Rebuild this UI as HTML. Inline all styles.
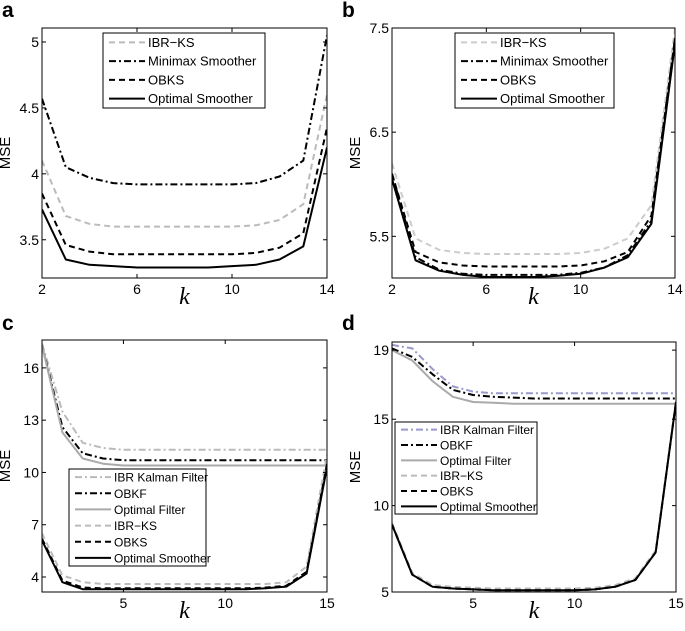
<!DOCTYPE html>
<html><head><meta charset="utf-8"><style>
body{margin:0;background:#fff;}
svg{display:block;font-family:"Liberation Sans",sans-serif;}
</style></head><body>
<svg id="fig" width="685" height="631" viewBox="0 0 685 631"></svg>
<script>
// ---- data ----
const kA = [2,3,4,5,6,7,8,9,10,11,12,13,14];
const aMinimax = [4.57,4.05,3.97,3.93,3.92,3.92,3.92,3.92,3.92,3.93,3.98,4.1,5.05];
const aIBRKS = [4.1,3.68,3.62,3.6,3.6,3.6,3.6,3.6,3.6,3.61,3.65,3.77,4.6];
const aOBKS = [3.85,3.46,3.41,3.39,3.39,3.39,3.39,3.39,3.39,3.4,3.44,3.55,4.35];
const aOptimal = [3.73,3.35,3.31,3.30,3.29,3.29,3.29,3.29,3.30,3.31,3.35,3.45,4.2];
const aTicksX = [2,6,10,14];
const aTicksY = [3.5,4,4.5,5];

const kB = [2,3,4,5,6,7,8,9,10,11,12,13,14];
const bIBRKS = [6.2,5.48,5.37,5.34,5.33,5.33,5.33,5.33,5.34,5.38,5.48,5.8,7.5];
const bMinimax = [6.1,5.3,5.18,5.14,5.13,5.13,5.13,5.13,5.15,5.2,5.32,5.65,7.4];
const bOBKS = [6.1,5.35,5.25,5.22,5.21,5.21,5.21,5.21,5.22,5.26,5.35,5.7,7.4];
const bOptimal = [6.05,5.27,5.17,5.13,5.11,5.11,5.11,5.12,5.14,5.2,5.3,5.62,7.35];
const bTicksX = [2,6,10,14];
const bTicksY = [5.5,6.5,7.5];

const kC = [1,2,3,4,5,6,7,8,9,10,11,12,13,14,15];
const cIBRKF = [17.4,13.5,11.7,11.4,11.3,11.3,11.3,11.3,11.3,11.3,11.3,11.3,11.3,11.3,11.3];
const cOBKF = [17.3,12.6,11.1,10.8,10.7,10.7,10.7,10.7,10.7,10.7,10.7,10.7,10.7,10.7,10.7];
const cOptFilter = [17.3,12.3,10.8,10.5,10.4,10.4,10.4,10.4,10.4,10.4,10.4,10.4,10.4,10.4,10.4];
const cIBRKS = [6.5,4.1,3.7,3.6,3.6,3.6,3.6,3.6,3.6,3.6,3.6,3.6,3.7,4.6,11];
const cOBKS = [6.2,3.8,3.4,3.35,3.35,3.35,3.35,3.35,3.35,3.35,3.35,3.4,3.5,4.3,10.5];
const cOptimal = [6.1,3.7,3.3,3.3,3.3,3.3,3.3,3.3,3.3,3.3,3.3,3.35,3.45,4.2,10.3];
const cTicksX = [5,10,15];
const cTicksY = [4,7,10,13,16];

const kD = [1,2,3,4,5,6,7,8,9,10,11,12,13,14,15];
const dIBRKF = [19.3,19.1,17.9,16.9,16.6,16.5,16.5,16.5,16.5,16.5,16.5,16.5,16.5,16.5,16.5];
const dOBKF = [19.1,18.6,17.6,16.7,16.4,16.3,16.25,16.2,16.2,16.2,16.2,16.2,16.2,16.2,16.2];
const dOptFilter = [19.0,18.4,17.2,16.3,16.0,15.95,15.9,15.9,15.9,15.9,15.9,15.9,15.9,15.9,15.9];
const dIBRKS = [9.0,6.1,5.4,5.3,5.25,5.2,5.2,5.2,5.2,5.2,5.25,5.4,5.8,7.4,16.0];
const dOBKS = [8.9,6.0,5.3,5.2,5.15,5.1,5.1,5.1,5.1,5.1,5.15,5.3,5.7,7.3,16.0];
const dOptimal = [8.9,6.0,5.3,5.2,5.15,5.1,5.1,5.1,5.1,5.1,5.15,5.3,5.7,7.3,16.0];
const dTicksX = [5,10,15];
const dTicksY = [5,10,15,19];

const NS = "http://www.w3.org/2000/svg";
const svg = document.getElementById('fig');
function el(tag, attrs, parent){
  const e = document.createElementNS(NS, tag);
  for (const k in attrs) e.setAttribute(k, attrs[k]);
  (parent||svg).appendChild(e);
  return e;
}
const STY = {
  solid:{dash:null}, dash:{dash:"6,4"}, dashdot:{dash:"7,3,2,3"}
};
function drawPanel(p){
  const g = el('g',{});
  
  
  const sx = v => p.x0 + (v - p.xmin)/(p.xmax - p.xmin)*(p.x1 - p.x0);
  const sy = v => p.y1 - (v - p.ymin)/(p.ymax - p.ymin)*(p.y1 - p.y0);
  const defs = el('defs',{},g);
  const cp = el('clipPath',{id:'clip'+p.id},defs);
  el('rect',{x:p.x0,y:p.y0,width:p.x1-p.x0,height:p.y1-p.y0},cp);
  const sg = el('g',{'clip-path':'url(#clip'+p.id+')'},g);
  p.series.forEach(s=>{
    const pts = s.vals.map((v,i)=>sx(p.ks[i]).toFixed(1)+','+sy(v).toFixed(1)).join(' ');
    const pl = el('polyline',{points:pts,fill:'none',stroke:s.color,'stroke-width':2,'stroke-linejoin':'round'},sg);
    if (STY[s.style].dash) pl.setAttribute('stroke-dasharray', STY[s.style].dash);
    
    
  });
  const box = el('rect',{x:p.x0,y:p.y0,width:p.x1-p.x0,height:p.y1-p.y0,fill:'none',stroke:'#000','stroke-width':1},g);
  
  
  p.tx.forEach(t=>{
    const x = sx(t);
    el('line',{x1:x,x2:x,y1:p.y1,y2:p.y1-4,stroke:'#000'},g);
    el('line',{x1:x,x2:x,y1:p.y0,y2:p.y0+4,stroke:'#000'},g);
    const tl = el('text',{x:x,y:p.y1+16,'font-size':14,'text-anchor':'middle'},g);
    tl.textContent = t;
    
    
  });
  p.ty.forEach(t=>{
    const y = sy(t);
    el('line',{x1:p.x0,x2:p.x0+4,y1:y,y2:y,stroke:'#000'},g);
    el('line',{x1:p.x1,x2:p.x1-4,y1:y,y2:y,stroke:'#000'},g);
    const tl = el('text',{x:p.x0-3,y:y+5,'font-size':14,'text-anchor':'end'},g);
    tl.textContent = t;
    
    
  });
  const lt = el('text',{x:p.lx,y:p.ly,'font-size':21,'font-weight':'bold'},g);
  lt.textContent = p.id;
  
  
  const yl = el('text',{x:0,y:0,'font-size':15,'text-anchor':'middle',transform:'translate('+(p.x0-p.ylOff)+','+((p.y0+p.y1)/2)+') rotate(-90)'},g);
  yl.textContent = 'MSE';
  
  
  const xl = el('text',{x:(p.x0+p.x1)/2,y:p.y1+26,'font-size':24,'font-style':'italic','font-family':'"Liberation Serif",serif','text-anchor':'middle'},g);
  xl.textContent = 'k';
  
  
  const L = p.legend;
  const lg = el('g',{},g);
  
  
  el('rect',{x:L.x,y:L.y,width:L.w,height:L.h,fill:'#fff',stroke:'#000','stroke-width':1},lg);
  const order = L.order;
  const step = L.h/order.length;
  order.forEach((idx,i)=>{
    const s = p.series[idx];
    const cy = L.y + step*(i+0.5);
    const ln = el('line',{x1:L.x+6,x2:L.x+6+L.ll,y1:cy,y2:cy,stroke:s.color,'stroke-width':2},lg);
    if (STY[s.style].dash) ln.setAttribute('stroke-dasharray', STY[s.style].dash);
    const tx = el('text',{x:L.x+9+L.ll,y:cy+4.5,'font-size':L.fs},lg);
    tx.textContent = s.label;
    
    
  });
}
drawPanel({id:'a',x0:42,x1:327,y0:28,y1:278,xmin:2,xmax:14,ymin:3.21,ymax:5.106,ks:kA,tx:aTicksX,ty:aTicksY,lx:2,ly:17,ylOff:32,
  series:[
    {key:'ibr-ks',label:'IBR\u2212KS',vals:aIBRKS,color:'#bbb',style:'dash'},
    {key:'minimax',label:'Minimax Smoother',vals:aMinimax,color:'#000',style:'dashdot'},
    {key:'obks',label:'OBKS',vals:aOBKS,color:'#000',style:'dash'},
    {key:'optimal-smoother',label:'Optimal Smoother',vals:aOptimal,color:'#000',style:'solid'}],
  legend:{x:103,y:33,w:162,h:75,ll:36,fs:13,order:[0,1,2,3]}});
drawPanel({id:'b',x0:392,x1:675,y0:28,y1:278,xmin:2,xmax:14,ymin:5.1,ymax:7.5,ks:kB,tx:bTicksX,ty:bTicksY,lx:342,ly:17,ylOff:32,
  series:[
    {key:'ibr-ks',label:'IBR\u2212KS',vals:bIBRKS,color:'#ccc',style:'dash'},
    {key:'minimax',label:'Minimax Smoother',vals:bMinimax,color:'#000',style:'dashdot'},
    {key:'obks',label:'OBKS',vals:bOBKS,color:'#000',style:'dash'},
    {key:'optimal-smoother',label:'Optimal Smoother',vals:bOptimal,color:'#000',style:'solid'}],
  legend:{x:455,y:33,w:159,h:75,ll:36,fs:13,order:[0,1,2,3]}});
drawPanel({id:'c',x0:42,x1:327,y0:340,y1:592,xmin:1,xmax:15,ymin:3.14,ymax:17.6,ks:kC,tx:cTicksX,ty:cTicksY,lx:2,ly:330,ylOff:32,
  series:[
    {key:'ibr-kalman-filter',label:'IBR Kalman Filter',vals:cIBRKF,color:'#bbb',style:'dashdot'},
    {key:'obkf',label:'OBKF',vals:cOBKF,color:'#000',style:'dashdot'},
    {key:'optimal-filter',label:'Optimal Filter',vals:cOptFilter,color:'#aaa',style:'solid'},
    {key:'ibr-ks',label:'IBR\u2212KS',vals:cIBRKS,color:'#bbb',style:'dash'},
    {key:'obks',label:'OBKS',vals:cOBKS,color:'#000',style:'dash'},
    {key:'optimal-smoother',label:'Optimal Smoother',vals:cOptimal,color:'#000',style:'solid'}],
  legend:{x:69,y:469,w:137,h:97,ll:36,fs:12,order:[0,1,2,3,4,5]}});
drawPanel({id:'d',x0:392,x1:676,y0:342,y1:592,xmin:1,xmax:15,ymin:5,ymax:19.47,ks:kD,tx:dTicksX,ty:dTicksY,lx:342,ly:330,ylOff:32,
  series:[
    {key:'ibr-kalman-filter',label:'IBR Kalman Filter',vals:dIBRKF,color:'#9999cc',style:'dashdot'},
    {key:'obkf',label:'OBKF',vals:dOBKF,color:'#000',style:'dashdot'},
    {key:'optimal-filter',label:'Optimal Filter',vals:dOptFilter,color:'#aaa',style:'solid'},
    {key:'ibr-ks',label:'IBR\u2212KS',vals:dIBRKS,color:'#bbb',style:'dash'},
    {key:'obks',label:'OBKS',vals:dOBKS,color:'#000',style:'dash'},
    {key:'optimal-smoother',label:'Optimal Smoother',vals:dOptimal,color:'#000',style:'solid'}],
  legend:{x:395,y:422,w:142,h:92,ll:36,fs:12,order:[0,1,2,3,4,5]}});
</script>
</body></html>
